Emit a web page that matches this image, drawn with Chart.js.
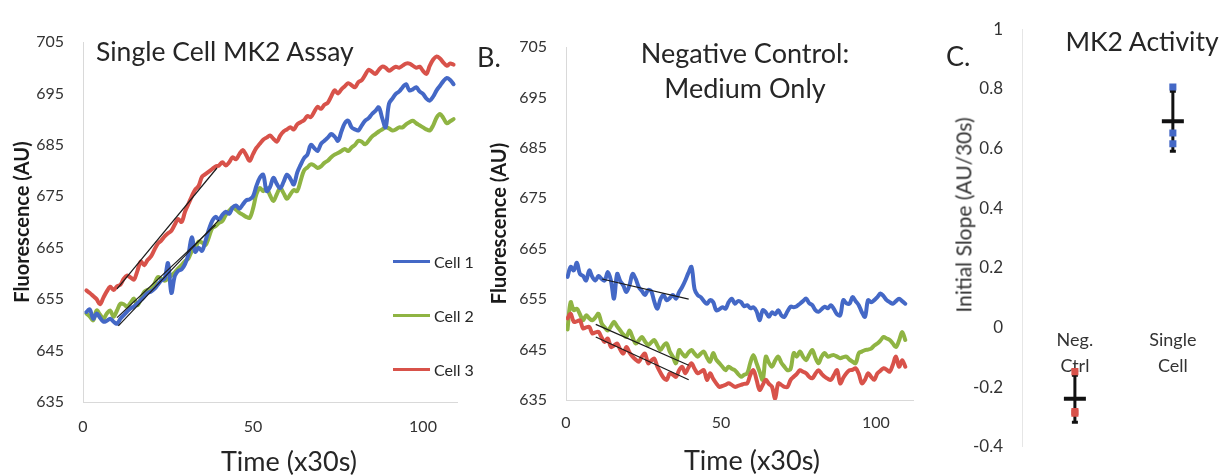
<!DOCTYPE html>
<html><head><meta charset="utf-8">
<script src="https://cdn.jsdelivr.net/npm/chart.js@4.4.1/dist/chart.umd.min.js"></script>
<style>
html,body{margin:0;padding:0;background:#fff;}
#wrap{position:relative;width:1229px;height:476px;overflow:hidden;font-family:Lato,"Open Sans",sans-serif;color:#262626;}
canvas{position:absolute;top:0;}
.t{position:absolute;white-space:nowrap;line-height:1.2;}
.c{transform:translateX(-50%);}
.sw{position:absolute;height:3px;width:37px;}
</style></head><body>
<div id="wrap">
<canvas id="cA" width="480" height="476" style="left:0"></canvas>
<canvas id="cB" width="460" height="476" style="left:470px"></canvas>
<canvas id="cC" width="299" height="476" style="left:930px"></canvas>

<div class="t" style="left:96px;top:36px;font-size:26.5px">Single Cell MK2 Assay</div>
<div class="t c" style="left:289px;top:445px;font-size:27px">Time (x30s)</div>
<div class="sw" style="left:393px;top:260px;background:#4468c6"></div>
<div class="t" style="left:434px;top:252px;font-size:16px">Cell 1</div>
<div class="sw" style="left:393px;top:314px;background:#8fb443"></div>
<div class="t" style="left:434px;top:306px;font-size:16px">Cell 2</div>
<div class="sw" style="left:393px;top:368px;background:#d8524a"></div>
<div class="t" style="left:434px;top:360px;font-size:16px">Cell 3</div>

<div class="t" style="left:477px;top:41px;font-size:27px">B.</div>
<div class="t c" style="left:745px;top:37px;font-size:27px">Negative Control:</div>
<div class="t c" style="left:745px;top:72px;font-size:27px">Medium Only</div>
<div class="t c" style="left:752px;top:444px;font-size:27px">Time (x30s)</div>

<div class="t" style="left:946px;top:40px;font-size:27px">C.</div>
<div class="t c" style="left:1142px;top:26px;font-size:26.5px">MK2 Activity</div>
<div class="t" style="left:963px;top:215px;font-size:21px;color:#333;transform:translate(-50%,-50%) rotate(-90deg)">Initial Slope (AU/30s)</div>
</div>
<script>
// ---------- data ----------
const xTicksTime = [0, 50, 100];
const yTicksFluor = [635, 645, 655, 665, 675, 685, 695, 705];
const timeStartA = 1;
const timeStartB = 0.5;

// Panel A: Single Cell MK2 Assay
const cell1A = [652.5,653.0,651.2,652.2,651.4,650.6,650.8,651.2,650.6,650.2,
651.2,651.9,652.6,653.2,653.6,654.2,654.8,655.5,656.2,656.5,
657.0,657.8,658.6,659.0,662.0,656.2,659.5,660.5,660.8,661.8,
663.7,667.0,664.2,665.0,664.4,666.3,668.5,670.2,671.0,670.5,
671.4,672.0,671.6,672.8,673.2,672.6,673.4,674.2,674.4,675.0,
677.0,678.6,679.2,676.0,676.8,678.6,677.4,676.6,677.8,679.2,
678.4,677.3,679.6,681.1,682.4,683.1,685.0,684.4,683.8,685.2,
685.8,686.4,687.1,686.6,685.8,687.6,689.2,689.7,688.4,688.0,
687.8,688.8,689.7,690.2,691.0,691.6,692.3,690.2,688.4,693.0,
694.0,694.9,695.4,696.2,696.8,695.6,695.8,696.2,695.4,694.9,
694.0,693.6,694.4,695.6,696.5,697.4,698.0,697.6,696.8];
const cell2A = [652.2,651.6,650.9,652.8,652.0,651.2,652.2,652.8,651.6,652.8,
654.1,654.0,653.5,654.3,655.1,653.8,655.0,656.4,656.8,657.0,
658.0,659.3,659.0,658.6,659.0,659.6,660.2,661.0,661.6,662.4,
662.9,664.3,664.8,666.2,666.0,665.5,667.0,668.8,669.2,669.8,
670.2,671.4,672.2,672.8,672.4,671.8,671.4,671.0,670.8,672.6,
675.4,676.6,676.0,676.6,675.2,674.1,675.4,676.6,675.6,674.5,
675.4,676.2,676.0,678.0,680.0,680.6,681.2,681.0,680.5,680.8,
681.5,681.9,682.6,683.1,683.4,683.8,684.2,683.8,684.5,685.0,
685.8,685.6,685.1,685.8,686.6,687.1,687.6,688.0,688.4,688.2,
687.8,688.0,688.4,688.4,689.0,689.4,689.7,689.2,688.8,688.4,
688.0,687.8,688.8,690.3,691.0,690.2,689.2,689.6,690.0];
const cell3A = [656.7,656.2,655.6,655.0,654.0,655.3,656.5,657.4,656.8,657.5,
657.8,659.0,659.6,659.2,658.8,660.5,662.3,661.6,662.6,663.3,
664.6,665.8,666.4,667.2,667.8,668.3,669.5,670.6,670.0,672.0,
673.5,675.0,676.3,677.0,678.8,679.3,679.8,680.3,680.8,681.0,
681.6,681.0,681.6,682.6,682.2,683.2,684.0,683.0,681.9,683.2,
684.4,685.2,686.0,686.4,686.8,686.2,685.6,686.8,687.6,688.0,
688.4,688.0,689.0,689.4,689.8,690.6,690.4,691.4,692.4,692.0,
692.8,693.2,694.4,695.6,695.0,695.8,696.4,697.0,696.6,696.2,
697.2,697.6,698.6,699.6,699.2,698.8,699.6,700.2,700.0,699.4,
699.8,700.2,700.0,700.4,700.8,700.8,700.4,700.0,700.2,699.4,
698.8,700.4,701.6,702.2,701.8,701.0,700.4,700.8,700.6];
// linear fits of the initial slope: [[t0, v0], [t1, v1]]
const fitA1 = [[10.4, 649.8], [40, 670.4]];
const fitA2 = [[10, 651.4], [39, 669.4]];
const fitA3 = [[10, 657.0], [39.4, 680.5]];

// Panel B: Negative Control (medium only)
const cell1B = [659.4,661.4,660.7,662.2,660.0,659.6,658.7,660.7,659.4,658.7,
659.6,659.0,658.7,660.4,658.7,655.1,660.0,658.6,657.7,656.4,
657.8,660.0,659.0,657.4,656.6,655.8,656.8,656.6,654.5,653.1,
655.0,655.8,654.8,655.2,655.8,655.1,656.4,657.4,658.7,660.2,
661.4,657.0,655.8,655.4,654.6,654.1,654.8,654.4,652.8,653.0,
653.4,653.1,654.4,655.1,654.1,654.6,654.4,653.6,653.8,653.2,
653.4,652.6,650.8,652.8,652.4,651.5,652.4,652.0,652.8,651.8,
651.5,652.6,653.5,653.4,653.6,654.1,654.6,655.1,654.2,653.8,
652.8,652.5,653.0,653.5,653.2,653.8,653.0,652.0,651.8,654.8,
654.2,654.1,655.4,654.6,653.8,652.4,651.5,654.8,654.4,654.8,
655.4,656.1,655.6,654.8,654.4,654.1,654.6,655.1,654.6,654.1];
const cell2B = [649.0,654.4,652.8,653.1,652.0,650.8,651.8,651.2,650.8,651.4,
652.1,650.2,649.4,648.8,649.6,650.5,649.6,648.8,648.0,647.5,
648.8,647.4,646.2,646.8,647.5,646.6,645.9,646.4,646.9,645.8,
644.9,645.8,646.2,644.6,643.6,642.3,644.9,644.2,643.6,644.4,
644.9,644.2,643.6,644.2,644.6,643.4,642.6,644.3,643.0,642.3,
641.6,640.9,641.6,641.2,640.9,640.2,639.6,640.0,640.3,642.4,
643.9,642.3,640.6,639.0,643.6,642.4,641.6,642.8,643.6,642.4,
641.6,640.9,641.2,644.3,643.6,644.6,643.6,642.9,644.0,644.9,
643.4,642.3,643.6,644.3,643.6,643.8,643.9,643.6,643.3,643.5,
643.6,643.0,642.6,642.3,644.3,644.6,644.9,645.0,645.2,645.8,
646.2,646.8,647.5,647.2,646.9,646.2,645.5,646.8,648.5,646.9];
const cell3B = [651.2,652.1,650.5,650.6,650.8,649.2,649.4,649.5,648.2,648.4,
648.5,647.4,646.5,647.2,645.5,645.8,646.2,645.0,644.2,645.5,
644.4,643.6,643.0,642.6,643.6,644.2,642.3,642.8,643.2,641.6,
640.4,639.4,639.0,640.3,640.0,639.6,640.9,641.6,640.3,641.4,
642.3,641.2,640.3,640.6,640.9,639.0,640.3,639.2,638.3,637.6,
637.8,638.0,638.3,638.0,637.6,637.8,638.0,638.2,638.3,640.0,
640.9,639.0,637.0,638.0,639.0,638.2,637.6,635.3,638.3,638.0,
637.6,637.6,639.0,639.6,640.2,640.9,640.6,640.3,639.6,639.3,
640.2,640.9,640.2,639.6,639.2,639.0,640.0,640.9,638.3,639.4,
640.3,640.9,641.0,641.3,640.2,638.3,639.0,640.3,639.6,639.0,
640.3,640.8,641.3,641.0,640.6,642.0,643.6,641.6,642.9,641.6];
const fitB1 = [[11.6, 659.0], [39.6, 655.0]];
const fitB2 = [[9.6, 650.0], [39.6, 641.9]];
const fitB3 = [[9.6, 647.5], [39.6, 639.0]];

// Panel C: MK2 Activity (initial slopes)
const groups = ['Neg. Ctrl', 'Single Cell'];
const negCtrlSlopes = [-0.148, -0.282, -0.287];
const singleCellSlopes = [0.806, 0.652, 0.616];
const slopeTicks = [-0.4, -0.2, 0, 0.2, 0.4, 0.6, 0.8, 1];

// ---------- styles ----------
const FONT = 'Lato, "Open Sans", sans-serif';
const BLUE = '#4468c6', GREEN = '#8fb443', RED = '#d8524a';
const AXIS = '#d9d9d9', TXT = '#333333';

function seriesPts(arr, start) { return arr.map((v, i) => ({x: start + i, y: v})); }
function fitPts(f) { return f.map(p => ({x: p[0], y: p[1]})); }
function lineDs(data, color) {
  return {data, borderColor: color, backgroundColor: color, borderWidth: 4,
    pointRadius: 0, tension: 0.35, borderCapStyle: 'round', borderJoinStyle: 'round'};
}
function fitDs(data) {
  return {data, borderColor: '#1a1a1a', borderWidth: 1.2, pointRadius: 0, tension: 0};
}

function timeChart(id, start, s1, s2, s3, fits, cfg) {
  const datasets = fits.map(f => fitDs(fitPts(f)));
  datasets.push(lineDs(seriesPts(s3, start), RED));
  datasets.push(lineDs(seriesPts(s1, start), BLUE));
  datasets.push(lineDs(seriesPts(s2, start), GREEN));
  return new Chart(document.getElementById(id), {
    type: 'line',
    data: {datasets},
    options: {
      responsive: false, animation: false,
      layout: {padding: {top: cfg.top, right: cfg.right, bottom: 0, left: 0}},
      plugins: {legend: {display: false}, tooltip: {enabled: false}},
      scales: {
        x: {type: 'linear', min: 0, max: cfg.xmax,
          afterBuildTicks: s => { s.ticks = xTicksTime.map(v => ({value: v})); },
          afterFit: s => { s.height = cfg.xh; },
          grid: {display: false, drawTicks: false},
          border: {display: true, color: AXIS, width: 1},
          ticks: {padding: cfg.xpad, color: TXT, font: {family: FONT, size: 16}, maxRotation: 0, autoSkip: false}},
        y: {type: 'linear', min: 635, max: 705,
          afterBuildTicks: s => { s.ticks = yTicksFluor.map(v => ({value: v})); },
          afterFit: s => { s.width = cfg.yw; },
          grid: {display: false, drawTicks: false},
          border: {display: true, color: AXIS, width: 1},
          ticks: {padding: 19, color: TXT, font: {family: FONT, size: 16}},
          title: {display: true, text: 'Fluorescence (AU)', color: '#1a1a1a',
            font: {family: FONT, size: 20, weight: 'bold'}, padding: {top: cfg.tpad, bottom: 0}}}
      }
    }
  });
}

timeChart('cA', timeStartA, cell1A, cell2A, cell3A, [fitA1, fitA2, fitA3],
  {top: 42, right: 23, xmax: 110, xh: 74, yw: 83, xpad: 15, tpad: 11});
timeChart('cB', timeStartB, cell1B, cell2B, cell3B, [fitB1, fitB2, fitB3],
  {top: 47, right: 17, xmax: 112, xh: 76, yw: 96, xpad: 13, tpad: 18});

// Panel C
function mean(a) { return a.reduce((s, v) => s + v, 0) / a.length; }
function sd(a) { const m = mean(a); return Math.sqrt(a.reduce((s, v) => s + (v - m) * (v - m), 0) / (a.length - 1)); }
const slopeSets = [negCtrlSlopes, singleCellSlopes];
const setColors = [RED, BLUE];
const cDatasets = [];
slopeSets.forEach((arr, gi) => {
  cDatasets.push({type: 'scatter', data: arr.map(v => ({x: gi, y: v})), pointStyle: 'rect',
    pointRadius: 5, backgroundColor: setColors[gi], borderColor: setColors[gi], borderWidth: 0, order: 0});
});
slopeSets.forEach((arr, gi) => {
  const m = mean(arr), s = sd(arr);
  cDatasets.push({type: 'scatter', data: [{x: gi, y: m}], pointStyle: 'line', pointRadius: 11,
    borderColor: '#111', borderWidth: 4, order: 1});
  cDatasets.push({type: 'scatter', data: [{x: gi, y: m - s}, {x: gi, y: m + s}], pointStyle: 'line', pointRadius: 3,
    borderColor: '#111', borderWidth: 3, order: 1});
  cDatasets.push({type: 'line', data: [{x: gi, y: m - s}, {x: gi, y: m + s}], borderColor: '#111',
    borderWidth: 3, pointRadius: 0, order: 2});
});

new Chart(document.getElementById('cC'), {
  type: 'scatter',
  data: {datasets: cDatasets},
  options: {
    responsive: false, animation: false,
    layout: {padding: {top: 20, right: 4, bottom: 22, left: 0}},
    plugins: {legend: {display: false}, tooltip: {enabled: false}},
    scales: {
      x: {type: 'linear', min: -0.54, max: 1.42, position: {y: 0},
        afterBuildTicks: s => { s.ticks = groups.map((g, i) => ({value: i})); },
        afterFit: s => { s.height = 0; },
        grid: {display: false, drawTicks: false},
        border: {display: false},
        ticks: {padding: 0, color: TXT, font: {family: FONT, size: 18, lineHeight: 1.45},
          maxRotation: 0, autoSkip: false,
          callback: v => groups[v] ? groups[v].split(' ') : ''}},
      y: {type: 'linear', min: -0.4, max: 1,
        afterBuildTicks: s => { s.ticks = slopeTicks.map(v => ({value: v})); },
        afterFit: s => { s.width = 92; },
        grid: {display: false, drawTicks: false},
        border: {display: true, color: '#e6e6e6', width: 1},
        ticks: {padding: 19, color: TXT, font: {family: FONT, size: 17},
          callback: v => String(Number(v.toFixed(2)))}}
    }
  }
});
</script>
</body></html>
